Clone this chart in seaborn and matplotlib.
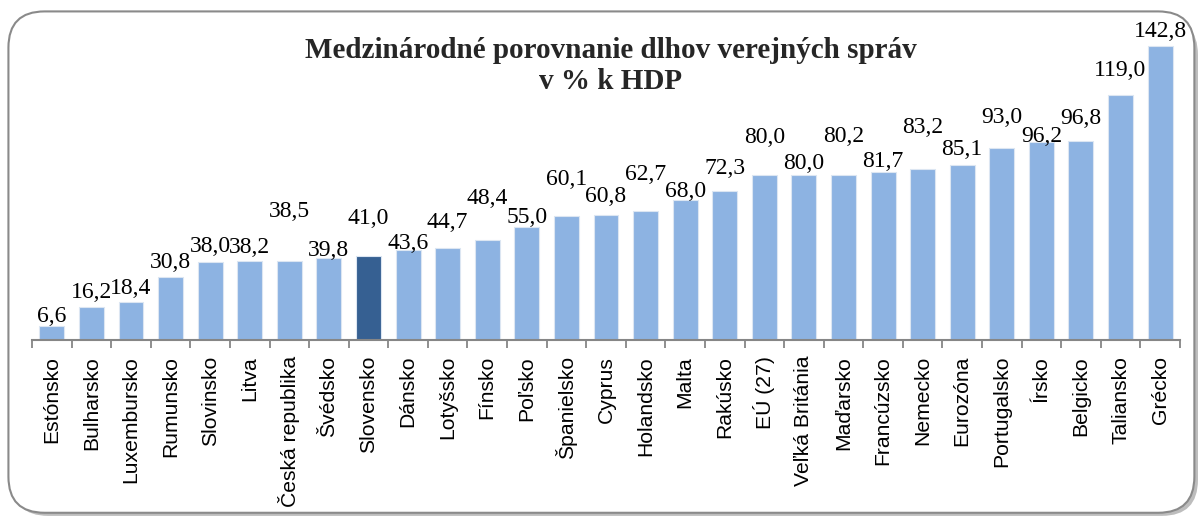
import matplotlib
matplotlib.use("Agg")
import matplotlib.pyplot as plt
import seaborn as sns
import pandas as pd
from matplotlib.patches import FancyBboxPatch
from matplotlib.ticker import FixedLocator

# data
krajiny = ['Estónsko', 'Bulharsko', 'Luxembursko', 'Rumunsko', 'Slovinsko', 'Litva',
           'Česká republika', 'Švédsko', 'Slovensko', 'Dánsko', 'Lotyšsko', 'Fínsko',
           'Poľsko', 'Španielsko', 'Cyprus', 'Holandsko', 'Malta', 'Rakúsko', 'EÚ (27)',
           'Veľká Británia', 'Maďarsko', 'Francúzsko', 'Nemecko', 'Eurozóna',
           'Portugalsko', 'Írsko', 'Belgicko', 'Taliansko', 'Grécko']
dlh = [6.6, 16.2, 18.4, 30.8, 38.0, 38.2, 38.5, 39.8, 41.0, 43.6, 44.7, 48.4,
       55.0, 60.1, 60.8, 62.7, 68.0, 72.3, 80.0, 80.0, 80.2, 81.7, 83.2, 85.1,
       93.0, 96.2, 96.8, 119.0, 142.8]
zvyraznit = 'Slovensko'

# vyska popisku nad stlpcom (px)
posun = [10, 14, 14, 14, 15, 14, 49, 8, 37, 7, 25, 42, 9, 37, 18, 36, 8, 23,
         38, 12, 38, 10, 41, 15, 31, 5, 22, 24, 14]

df = pd.DataFrame({'krajina': krajiny, 'dlh': dlh})
farby = {k: ('#366092' if k == zvyraznit else '#8DB3E2') for k in krajiny}

sns.set_style('white')
plt.rcParams['font.family'] = ['Liberation Sans', 'DejaVu Sans']

fig = plt.figure(figsize=(12.04, 5.19), dpi=100)
ax = fig.add_axes([0.0266, 0.345, 0.9534, 0.595])

# ramik okolo grafu
tien = FancyBboxPatch((0.010, 0.006), 0.985, 0.958, boxstyle='round,pad=0,rounding_size=0.03',
                      transform=fig.transFigure, facecolor='#bdbdbd', edgecolor='none',
                      mutation_aspect=1204 / 519, zorder=-2)
ramik = FancyBboxPatch((0.007, 0.012), 0.985, 0.966, boxstyle='round,pad=0,rounding_size=0.03',
                       transform=fig.transFigure, facecolor='white', edgecolor='#8a8a8a',
                       linewidth=1.5, mutation_aspect=1204 / 519, zorder=-1)
fig.patches.extend([tien, ramik])
ax.set_facecolor('none')

sns.barplot(data=df, x='krajina', y='dlh', hue='krajina', palette=farby, legend=False,
            order=krajiny, width=0.63, edgecolor='#dce6f2', linewidth=0.8, ax=ax, saturation=1)

ax.set_ylim(0, 150)
ax.set_xlim(-0.5, len(krajiny) - 0.5)
ax.set_xlabel('')
ax.set_ylabel('')
ax.set_yticks([])
for s in ['top', 'left', 'right']:
    ax.spines[s].set_visible(False)
ax.spines['bottom'].set_color('#868686')
ax.spines['bottom'].set_linewidth(1.5)

ax.xaxis.set_minor_locator(FixedLocator([i - 0.5 for i in range(len(krajiny) + 1)]))
ax.tick_params(axis='x', which='minor', bottom=True, length=6, width=1.3, color='#868686')
ax.tick_params(axis='x', which='major', bottom=False, length=0, pad=11.5)
ax.set_xticks(range(len(krajiny)))
ax.set_xticklabels(krajiny, rotation=90, fontsize=15.2, color='black')

for i, (v, p) in enumerate(zip(dlh, posun)):
    ax.annotate(f'{v:.1f}'.replace('.', ','), xy=(i, v), xytext=(0, p * 0.72),
                textcoords='offset points', ha='center', va='center',
                fontsize=17, family='Liberation Serif', color='black')

fig.text(0.507, 0.873, 'Medzinárodné porovnanie dlhov verejných správ\nv % k HDP',
         ha='center', va='center', fontsize=21, fontweight='bold',
         family='Liberation Serif', linespacing=1.2)

fig.savefig('out.png', dpi=100)
